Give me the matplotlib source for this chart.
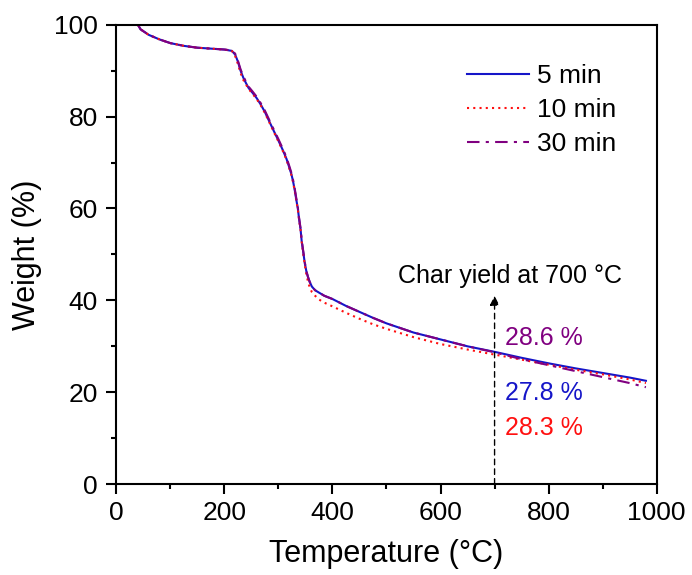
import numpy as np
import matplotlib
matplotlib.use("Agg")
import matplotlib.pyplot as plt
from matplotlib.ticker import MultipleLocator

plt.rcParams['font.family'] = ['Liberation Sans', 'DejaVu Sans']

# TGA curves (temperature in degC, weight in %)
temp_5 = [40, 45, 60, 80, 100, 125, 150, 175, 200, 214, 220, 225, 230, 235, 240, 245, 252, 260, 268, 275, 283, 291,
          300, 309, 315, 320, 324, 327, 330, 333, 336, 338, 341, 343, 346, 349, 352, 355, 358, 362, 368, 375, 385,
          400, 425, 450, 475, 500, 550, 600, 650, 700, 750, 800, 850, 900, 950, 980]
weight_5 = [100, 99, 97.8, 96.8, 96, 95.4, 95, 94.8, 94.6, 94.3, 93.5, 92, 90, 88.5, 87.3, 86.2, 85.2, 84, 82.5, 81, 79,
            77, 74.8, 72.5, 70.8, 69, 67.5, 66, 64.2, 62, 60, 58, 55.5, 53, 50.5, 48, 46.2, 45, 44, 43, 42.2, 41.7, 41,
            40.3, 38.8, 37.5, 36.2, 35, 33, 31.5, 30, 28.8, 27.5, 26.3, 25.2, 24.2, 23.2, 22.5]

temp_10 = [40, 45, 60, 80, 100, 125, 150, 175, 200, 214, 220, 225, 230, 235, 240, 245, 252, 260, 268, 275, 283, 291,
           300, 309, 315, 320, 324, 327, 330, 333, 336, 338, 341, 343, 346, 349, 352, 355, 358, 362, 368, 375, 385,
           400, 425, 450, 475, 500, 550, 600, 650, 700, 750, 800, 850, 900, 950, 980]
weight_10 = [100, 99, 97.8, 96.8, 96, 95.4, 95, 94.8, 94.6, 94.3, 93.2, 91.5, 89.5, 88, 87, 86, 85, 83.8, 82.3, 80.8,
             78.8, 76.8, 74.6, 72.3, 70.6, 68.8, 67.3, 65.8, 64, 61.8, 59.8, 57.8, 55.3, 52.8, 50.2, 47.6, 45.5, 44,
             42.8, 41.8, 41, 40.2, 39.5, 38.7, 37.3, 36, 34.8, 33.8, 32, 30.5, 29.3, 28.2, 27.1, 26, 24.9, 23.9, 22.8,
             22.0]

temp_30 = [40, 45, 60, 80, 100, 125, 150, 175, 200, 214, 220, 225, 230, 235, 240, 245, 252, 260, 268, 275, 283, 291,
           300, 309, 315, 320, 324, 327, 330, 333, 336, 338, 341, 343, 346, 349, 352, 355, 358, 362, 368, 375, 385,
           400, 425, 450, 475, 500, 550, 600, 650, 700, 750, 800, 850, 900, 950, 980]
weight_30 = [100, 99, 97.8, 96.8, 96, 95.4, 95, 94.8, 94.6, 94.4, 93.7, 92.2, 90.3, 88.8, 87.6, 86.5, 85.5, 84.3, 82.8,
             81.3, 79.3, 77.3, 75.1, 72.8, 71.1, 69.3, 67.8, 66.3, 64.5, 62.3, 60.2, 58.2, 55.7, 53.2, 50.7, 48.2,
             46.3, 45, 44, 43, 42.2, 41.7, 41, 40.3, 38.8, 37.5, 36.2, 35, 33, 31.5, 30, 28.7, 27.2, 25.9, 24.6, 23.3,
             22, 21.1]

series = [
    ("5 min", temp_5, weight_5, "#1515c8", "-"),
    ("10 min", temp_10, weight_10, "#ff1010", (0, (1, 2))),
    ("30 min", temp_30, weight_30, "#800080", (0, (6, 3, 1.5, 3))),
]

char_temp = 700
char_labels = ["28.6 %", "27.8 %", "28.3 %"]
char_colors = ["#800080", "#1515c8", "#ff1010"]
char_label_y = [31.8, 19.8, 12.2]

fig = plt.figure(figsize=(6.92, 5.75), dpi=100)
ax = fig.add_axes([0.168, 0.158, 0.781, 0.799])

for name, t, w, c, ls in series:
    ax.plot(t, w, color=c, linestyle=ls, linewidth=1.5, label=name)

# dashed arrow at 700 degC
ax.annotate("", xy=(char_temp, 41), xytext=(char_temp, 0),
            arrowprops=dict(arrowstyle="-|>", linestyle=(0, (4, 3)), color="black", lw=1.0,
                            mutation_scale=14, shrinkA=0, shrinkB=0))
ax.text(728, 45.3, "Char yield at 700 °C", fontsize=18, ha="center", va="center")
for lab, col, yy in zip(char_labels, char_colors, char_label_y):
    ax.text(char_temp + 19, yy, lab, fontsize=18, color=col, ha="left", va="center")

ax.set_xlim(0, 1000)
ax.set_ylim(0, 100)
ax.xaxis.set_major_locator(MultipleLocator(200))
ax.xaxis.set_minor_locator(MultipleLocator(100))
ax.yaxis.set_major_locator(MultipleLocator(20))
ax.yaxis.set_minor_locator(MultipleLocator(10))
ax.tick_params(which="major", direction="out", length=7.2, width=1.5, labelsize=19)
ax.tick_params(axis="y", which="major", pad=6)
ax.tick_params(axis="x", which="major", pad=5)
ax.tick_params(which="minor", direction="out", length=3.6, width=1.5)
for sp in ax.spines.values():
    sp.set_linewidth(1.5)

ax.set_xlabel("Temperature (°C)", fontsize=22, labelpad=10)
ax.set_ylabel("Weight (%)", fontsize=22, labelpad=9)

ax.legend(loc="upper left", frameon=False, fontsize=19, handlelength=2.35,
          handletextpad=0.3, labelspacing=0.38, borderpad=0, borderaxespad=0,
          bbox_to_anchor=(0.649, 0.915))

fig.savefig("out.png", dpi=100)
